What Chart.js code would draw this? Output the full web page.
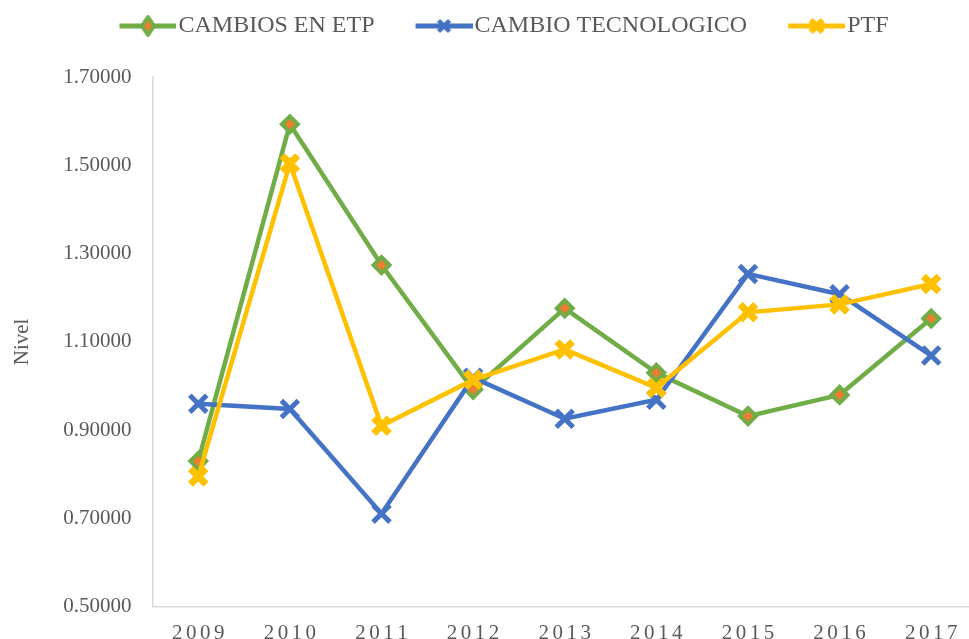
<!DOCTYPE html>
<html lang="es">
<head>
<meta charset="UTF-8" />
<title>Nivel</title>
<script src="https://cdn.jsdelivr.net/npm/chart.js@4.4.0/dist/chart.umd.min.js"></script>
<style>
  html, body { margin: 0; padding: 0; background: #fff; overflow: hidden; }
  #myChart { display: block; }
</style>
</head>
<body>
<canvas id="myChart" width="977" height="652"></canvas>
<script>
// values
const years = ['2009', '2010', '2011', '2012', '2013', '2014', '2015', '2016', '2017'];
const cambiosEtp = [0.830, 1.593, 1.274, 0.992, 1.176, 1.030, 0.932, 0.980, 1.153];
const cambioTec = [0.960, 0.948, 0.711, 1.019, 0.926, 0.969, 1.254, 1.208, 1.069];
const ptf = [0.795, 1.504, 0.910, 1.014, 1.083, 0.996, 1.167, 1.185, 1.231];
const yTicks = [0.5, 0.7, 0.9, 1.1, 1.3, 1.5, 1.7];

const GREEN = '#70AD47', BLUE = '#4472C4', YELLOW = '#FFC000', ORANGE = '#ED7D31';
const GREY = '#595959';
const FONT = "'Liberation Serif', 'Times New Roman', serif";

// legend symbol: line with the marker in the middle, drawn on the right side of a small canvas
function legendIcon(color, kind) {
  const c = document.createElement('canvas');
  c.width = 98; c.height = 28;
  const g = c.getContext('2d');
  g.strokeStyle = color;
  g.lineWidth = 5;
  g.beginPath(); g.moveTo(41, 14); g.lineTo(98, 14); g.stroke();
  const cx = 69.5, cy = 14;
  if (kind === 'diamond') {
    g.beginPath();
    g.moveTo(cx, cy - 9); g.lineTo(cx + 6, cy); g.lineTo(cx, cy + 9); g.lineTo(cx - 6, cy); g.closePath();
    g.fillStyle = ORANGE; g.fill();
    g.lineWidth = 4; g.lineJoin = 'round'; g.stroke();
  } else {
    const r = kind === 'xbig' ? 6 : 5.5;
    g.lineWidth = kind === 'xbig' ? 6 : 4.5;
    g.beginPath();
    g.moveTo(cx - r, cy - r); g.lineTo(cx + r, cy + r);
    g.moveTo(cx + r, cy - r); g.lineTo(cx - r, cy + r);
    g.stroke();
  }
  return c;
}
const icons = [legendIcon(GREEN, 'diamond'), legendIcon(BLUE, 'x'), legendIcon(YELLOW, 'xbig')];

// extra room under the legend, and nudge it a little
const legendGap = {
  id: 'legendGap',
  beforeInit(chart) {
    const lg = chart.legend;
    const fit = lg.fit;
    lg.fit = function () {
      fit.call(this);
      this.height += 31;
    };
    const draw = lg.draw;
    lg.draw = function () {
      this.ctx.save();
      this.ctx.translate(-5, 2);
      draw.call(this);
      this.ctx.restore();
    };
  }
};

const ctx = document.getElementById('myChart').getContext('2d');
const myChart = new Chart(ctx, {
  type: 'line',
  plugins: [legendGap],
  data: {
    labels: years,
    datasets: [
      {
        label: 'CAMBIOS EN ETP',
        data: cambiosEtp,
        borderColor: GREEN,
        backgroundColor: ORANGE,
        borderWidth: 4.5,
        pointStyle: 'rectRot',
        pointRadius: 8,
        pointHoverRadius: 8,
        pointBorderWidth: 4,
        pointBorderColor: GREEN,
        pointBackgroundColor: ORANGE,
        order: 3
      },
      {
        label: 'CAMBIO TECNOLOGICO',
        data: cambioTec,
        borderColor: BLUE,
        backgroundColor: BLUE,
        borderWidth: 4.5,
        pointStyle: 'crossRot',
        pointRadius: 12,
        pointHoverRadius: 12,
        pointBorderWidth: 5,
        pointBorderColor: BLUE,
        order: 2
      },
      {
        label: 'PTF',
        data: ptf,
        borderColor: YELLOW,
        backgroundColor: YELLOW,
        borderWidth: 4.5,
        pointStyle: 'crossRot',
        pointRadius: 11,
        pointHoverRadius: 11,
        pointBorderWidth: 7,
        pointBorderColor: YELLOW,
        order: 1
      }
    ]
  },
  options: {
    responsive: false,
    animation: false,
    events: [],
    layout: { autoPadding: false, padding: { top: 2, left: 10, right: 0, bottom: 0 } },
    elements: { line: { tension: 0, fill: false } },
    plugins: {
      tooltip: { enabled: false },
      legend: {
        position: 'top',
        labels: {
          usePointStyle: true,
          pointStyleWidth: 78,
          padding: 10,
          color: GREY,
          font: { family: FONT, size: 24 },
          sort: (a, b) => a.datasetIndex - b.datasetIndex,
          generateLabels: (chart) => {
            const items = Chart.defaults.plugins.legend.labels.generateLabels(chart);
            items.forEach(it => { it.pointStyle = icons[it.datasetIndex]; });
            return items;
          }
        }
      }
    },
    scales: {
      x: {
        offset: true,
        grid: { display: false },
        border: { display: true, color: '#D9D9D9', width: 1.5 },
        ticks: {
          color: GREY,
          padding: 6,
          maxRotation: 0,
          font: { family: FONT, size: 21 },
          callback: function (v) { return this.getLabelForValue(v).split('').join('\u2006'); }
        }
      },
      y: {
        min: 0.5,
        max: 1.7,
        afterBuildTicks: (scale) => { scale.ticks = yTicks.map(v => ({ value: v })); },
        grid: { display: false },
        border: { display: true, color: '#D9D9D9', width: 1.5 },
        title: {
          display: true,
          text: 'Nivel',
          color: GREY,
          font: { family: FONT, size: 21 },
          padding: { top: 0, bottom: 15 }
        },
        ticks: {
          color: GREY,
          padding: 13,
          font: { family: FONT, size: 21 },
          callback: (v) => Number(v).toFixed(5)
        }
      }
    }
  }
});
</script>
</body>
</html>
